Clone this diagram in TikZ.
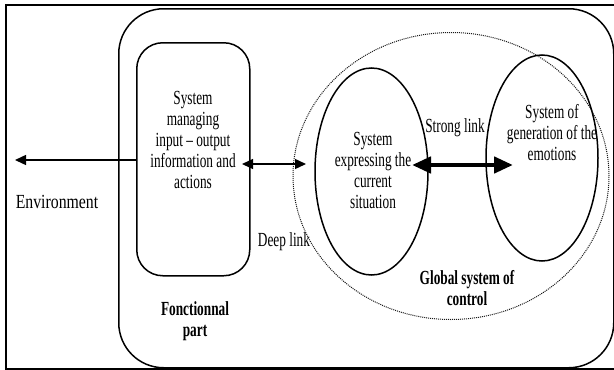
\documentclass[tikz,border=0pt]{standalone}
\usepackage{fontspec}
\setmainfont{Liberation Serif}[FakeStretch=0.665]
\newfontfamily\widefont{Liberation Serif}[FakeStretch=0.79]
\usetikzlibrary{shapes.geometric,arrows.meta}

\begin{document}
\begin{tikzpicture}[x=1pt,y=-1pt,
  lbl/.style={align=center,inner sep=0pt,font=\fontsize{20}{21}\selectfont},
  boldlbl/.style={lbl,font=\fontsize{20}{21}\selectfont\bfseries},
  shell/.style={draw,inner sep=0pt,anchor=north west},
  oval/.style={draw,ellipse,inner sep=0pt,line width=1.5pt},
  thin/.style={line width=1.4pt,{Triangle[length=11pt,width=10pt]}-{Triangle[length=11pt,width=10pt]}},
  thick/.style={line width=4.5pt,{Triangle[length=19pt,width=16pt]}-{Triangle[length=19pt,width=16pt]}}
]
\useasboundingbox (0,0) rectangle (614,370);

% outer frame (environment)
\node[shell,line width=1.8pt,minimum width=615pt,minimum height=364pt] (frame) at (5,4) {};
% functional part
\node[shell,line width=1.5pt,rounded corners=45pt,minimum width=495pt,minimum height=359pt] (func) at (118,8) {};
% input/output management box
\node[shell,line width=1.5pt,rounded corners=26pt,minimum width=113pt,minimum height=233pt] (iobox) at (136,42) {};
% global control system (dotted)
\node[draw,ellipse,inner sep=0pt,line width=1pt,dash pattern=on 1pt off 1pt,black!90,minimum width=316pt,minimum height=287pt] (global) at (451,176) {};
% the two subsystems
\node[oval,minimum width=113pt,minimum height=207pt] (situ) at (371.5,171.5) {};
\node[oval,minimum width=112pt,minimum height=206pt] (emo) at (542,158) {};

% texts
\node[lbl] (iotxt) at (193,140) {System\\managing\\input – output\\information and\\actions};
\node[lbl] (situtxt) at (373,170) {System\\expressing the\\current\\situation};
\node[lbl] (emotxt) at (552,133) {System of\\generation of the\\emotions};
\node[lbl] (strong) at (455,128) {Strong link};
\node[lbl] (deep) at (284,242) {Deep link};
\node[lbl,font=\fontsize{20}{21}\widefont] (env) at (57,202) {Environment};
\node[boldlbl] (functxt) at (195,321) {Fonctionnal\\part};
\node[boldlbl] (globtxt) at (467,288) {Global system of\\control};

% links
\coordinate (envtip) at (15,160);
\draw[line width=1.4pt,-{Triangle[length=11pt,width=10pt]}] (iobox.west |- envtip) -- (envtip);
\coordinate (deepa) at (242,164);
\coordinate (deepb) at (306,164);
\draw[thin] (deepa) -- (deepb);
\coordinate (stronga) at (412,165);
\coordinate (strongb) at (513,165);
\draw[thick] (stronga) -- (strongb);
\end{tikzpicture}
\end{document}
